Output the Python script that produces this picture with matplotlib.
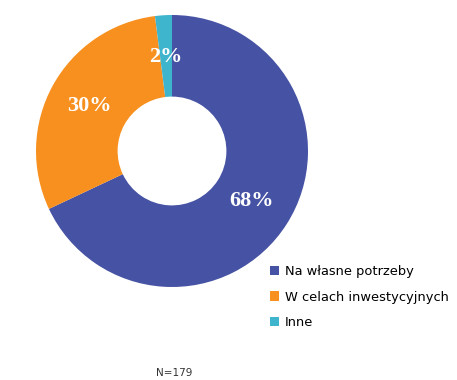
import matplotlib
matplotlib.use('Agg')
import matplotlib.pyplot as plt
from matplotlib.patches import Patch
import numpy as np

labels = ['Na własne potrzeby', 'W celach inwestycyjnych', 'Inne']
values = [68, 30, 2]
colors = ['#4652A3', '#F7901E', '#3FB4CD']

fig = plt.figure(figsize=(4.57, 3.8), dpi=100)
cx, cy, r = 172, 151, 136
ax = fig.add_axes([(cx - r) / 457, (380 - cy - r) / 380, 2 * r / 457, 2 * r / 380])
wedges, texts = ax.pie(values, colors=colors, startangle=90, counterclock=False,
                       radius=1, wedgeprops=dict(width=0.6, edgecolor='none'))
ax.set_xlim(-1, 1)
ax.set_ylim(-1, 1)
ax.set_aspect('equal')
ax.axis('off')

for v, w in zip(values, wedges):
    mid = np.deg2rad((w.theta1 + w.theta2) / 2)
    ax.text(0.69 * np.cos(mid), 0.69 * np.sin(mid), f'{v}%', color='white',
            fontsize=16, fontweight='bold', family='Liberation Serif',
            ha='center', va='center')

handles = [Patch(facecolor=c, edgecolor='none') for c in colors]
fig.legend(handles, labels, loc='upper left', bbox_to_anchor=(265 / 457, 1 - 260 / 380),
           frameon=False, fontsize=9.4, labelspacing=0.95, handlelength=0.7,
           handleheight=0.7, handletextpad=0.45, borderaxespad=0)

fig.text(174 / 457, 1 - 373 / 380, 'N=179', fontsize=7.5, ha='center', va='center',
         color='#333333')

fig.savefig('out.png', dpi=100)
